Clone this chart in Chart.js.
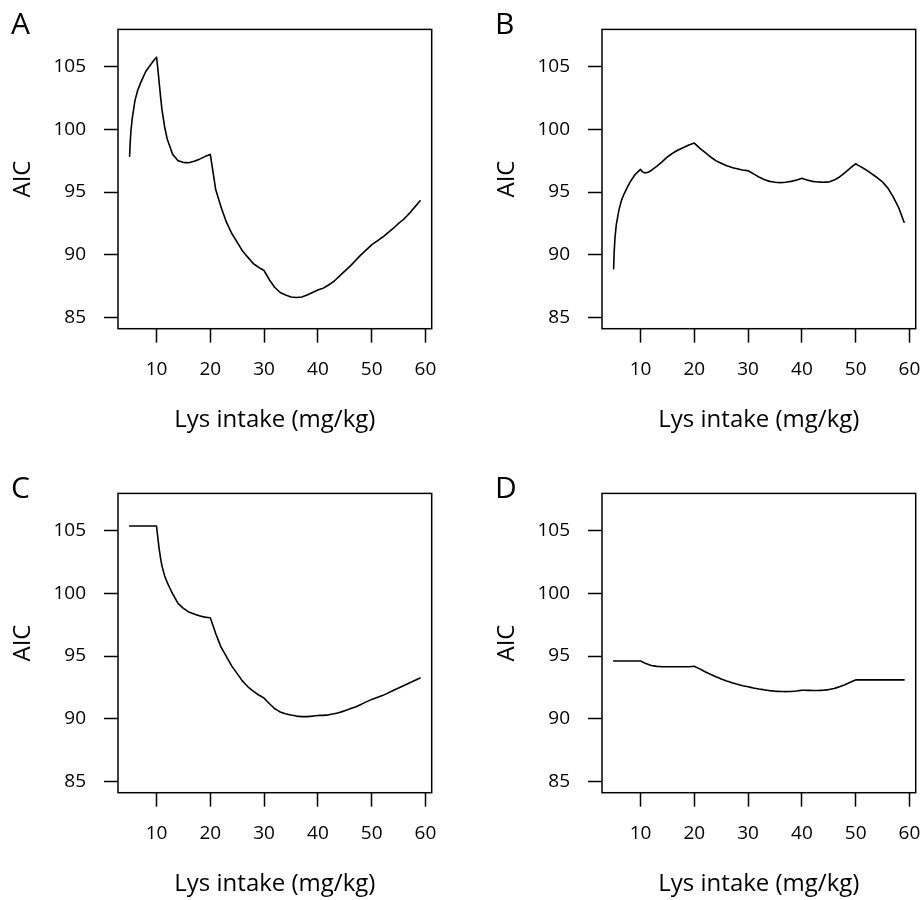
<!DOCTYPE html>
<html>
<head>
<meta charset="utf-8">
<script src="https://cdn.jsdelivr.net/npm/chart.js@4/dist/chart.umd.min.js"></script>
<style>
    body { margin: 0; background: #fff; }
    .page { position: relative; width: 922px; height: 900px; background: #fff; }
    .panel { position: absolute; width: 438px; height: 450px; }
</style>
</head>
<body>
<div class="page">
    <div class="panel" style="left:0;top:0"><canvas id="chartA" width="438" height="450"></canvas></div>
    <div class="panel" style="left:484px;top:0"><canvas id="chartB" width="438" height="450"></canvas></div>
    <div class="panel" style="left:0;top:464px"><canvas id="chartC" width="438" height="450"></canvas></div>
    <div class="panel" style="left:484px;top:464px"><canvas id="chartD" width="438" height="450"></canvas></div>
</div>
<script>
// Lys intake (mg/kg) grid, shared by all four panels
const lysIntake = [5, 5.1, 5.25, 5.5, 6, 6.5, 7, 8, 9, 10,
    10.25, 10.5, 10.75, 11, 11.5, 12, 13, 14, 15, 16, 17, 18, 19, 20,
    21, 22, 23, 24, 25, 26, 27, 28, 29, 30,
    31, 32, 33, 34, 35, 36, 37, 38, 39, 40,
    41, 42, 43, 44, 45, 46, 47, 48, 49, 50,
    51, 52, 53, 54, 55, 56, 57, 58, 59];

const aicA = [97.85, 98.9, 99.9, 100.9, 102.3, 103.1, 103.65, 104.6, 105.2, 105.75,
    104.8, 103.7, 102.6, 101.6, 100.2, 99.2, 98.0, 97.5, 97.35, 97.33, 97.45, 97.62, 97.82, 98.0,
    95.2, 93.8, 92.6, 91.7, 91.0, 90.3, 89.8, 89.3, 89.0, 88.75,
    88.0, 87.4, 87.0, 86.8, 86.65, 86.6, 86.65, 86.8, 87.0, 87.2,
    87.35, 87.6, 87.9, 88.3, 88.7, 89.1, 89.55, 90.0, 90.4, 90.8,
    91.1, 91.4, 91.75, 92.1, 92.5, 92.85, 93.3, 93.8, 94.3];

const aicB = [88.9, 90.2, 91.35, 92.4, 93.6, 94.4, 94.9, 95.75, 96.4, 96.8,
    96.66, 96.58, 96.54, 96.53, 96.6, 96.72, 97.05, 97.4, 97.8, 98.1, 98.35, 98.55, 98.75, 98.9,
    98.5, 98.15, 97.8, 97.5, 97.3, 97.1, 96.95, 96.85, 96.75, 96.7,
    96.45, 96.2, 96.0, 95.85, 95.78, 95.75, 95.78, 95.85, 95.95, 96.1,
    95.95, 95.85, 95.8, 95.78, 95.8, 95.95, 96.2, 96.55, 96.9, 97.25,
    97.0, 96.75, 96.45, 96.15, 95.8, 95.3, 94.6, 93.75, 92.6];

const aicC = [105.35, 105.35, 105.35, 105.35, 105.35, 105.35, 105.35, 105.35, 105.35, 105.35,
    104.4, 103.5, 102.8, 102.2, 101.4, 100.85, 99.95, 99.2, 98.8, 98.5, 98.35, 98.2, 98.1, 98.05,
    96.8, 95.7, 94.95, 94.2, 93.6, 93.0, 92.55, 92.2, 91.9, 91.65,
    91.2, 90.8, 90.55, 90.4, 90.3, 90.22, 90.18, 90.18, 90.22, 90.27,
    90.28, 90.32, 90.4, 90.5, 90.65, 90.8, 90.95, 91.15, 91.35, 91.55,
    91.7, 91.85, 92.05, 92.25, 92.45, 92.65, 92.85, 93.05, 93.25];

const aicD = [94.6, 94.6, 94.6, 94.6, 94.6, 94.6, 94.6, 94.6, 94.6, 94.6,
    94.56, 94.5, 94.45, 94.4, 94.32, 94.25, 94.18, 94.15, 94.15, 94.15, 94.15, 94.15, 94.15, 94.18,
    93.98, 93.75, 93.55, 93.35, 93.18, 93.02, 92.88, 92.75, 92.64, 92.55,
    92.46, 92.38, 92.31, 92.25, 92.2, 92.18, 92.17, 92.18, 92.22, 92.28,
    92.27, 92.26, 92.26, 92.28, 92.33, 92.42, 92.55, 92.72, 92.92, 93.1,
    93.1, 93.1, 93.1, 93.1, 93.1, 93.1, 93.1, 93.1, 93.1];

const xTicks = [10, 20, 30, 40, 50, 60];
const yTicks = [85, 90, 95, 100, 105];

const FONT = "'Open Sans', 'Noto Sans', sans-serif";

// box round the plot region + panel letter
const boxPlugin = {
    id: 'box',
    afterDraw(chart, args, opts) {
        const {ctx, chartArea} = chart;
        ctx.save();
        ctx.strokeStyle = '#000';
        ctx.lineWidth = 1.5;
        ctx.strokeRect(chartArea.left, chartArea.top,
            chartArea.right - chartArea.left, chartArea.bottom - chartArea.top);
        ctx.fillStyle = '#000';
        ctx.font = '30px ' + FONT;
        ctx.textBaseline = 'alphabetic';
        ctx.fillText(opts.letter, 11, 34);
        ctx.restore();
    }
};

function makePanel(id, letter, values) {
    const ctx = document.getElementById(id).getContext('2d');
    new Chart(ctx, {
        type: 'line',
        data: {
            datasets: [{
                data: lysIntake.map((x, i) => ({x: x, y: values[i]})),
                borderColor: '#000',
                borderWidth: 1.6,
                borderJoinStyle: 'round',
                borderCapStyle: 'round',
                pointRadius: 0,
                tension: 0.001, // tiny tension: skips the fast path that merges points in one pixel column
                fill: false
            }]
        },
        options: {
            responsive: false,
            animation: false,
            layout: {padding: {top: 13, right: 6.3, left: 0, bottom: 0}},
            plugins: {
                legend: {display: false},
                tooltip: {enabled: false},
                box: {letter: letter}
            },
            scales: {
                x: {
                    type: 'linear',
                    min: 2.84,
                    max: 61.16,
                    afterBuildTicks: s => { s.ticks = xTicks.map(v => ({value: v})); },
                    afterFit: s => { s.height = 121.3; s.paddingLeft = 0; s.paddingRight = 0; },
                    grid: {drawOnChartArea: false, drawTicks: true, tickLength: 14, tickColor: '#000', tickWidth: 1.5},
                    border: {display: false},
                    ticks: {color: '#000', font: {family: FONT, size: 19}, padding: 15, maxRotation: 0, autoSkip: false},
                    title: {display: true, text: 'Lys intake (mg/kg)', color: '#000',
                        font: {family: FONT, size: 24}, padding: {top: 0, bottom: 15}}
                },
                y: {
                    min: 84.12,
                    max: 107.95,
                    afterBuildTicks: s => { s.ticks = yTicks.map(v => ({value: v})); },
                    afterFit: s => { s.width = 118; },
                    grid: {drawOnChartArea: false, drawTicks: true, tickLength: 14, tickColor: '#000', tickWidth: 1.5},
                    border: {display: false},
                    ticks: {color: '#000', font: {family: FONT, size: 19}, padding: 18, autoSkip: false},
                    title: {display: true, text: 'AIC', color: '#000',
                        font: {family: FONT, size: 24}, padding: {top: 9, bottom: 0}}
                }
            }
        },
        plugins: [boxPlugin]
    });
}

makePanel('chartA', 'A', aicA);
makePanel('chartB', 'B', aicB);
makePanel('chartC', 'C', aicC);
makePanel('chartD', 'D', aicD);
</script>
</body>
</html>
